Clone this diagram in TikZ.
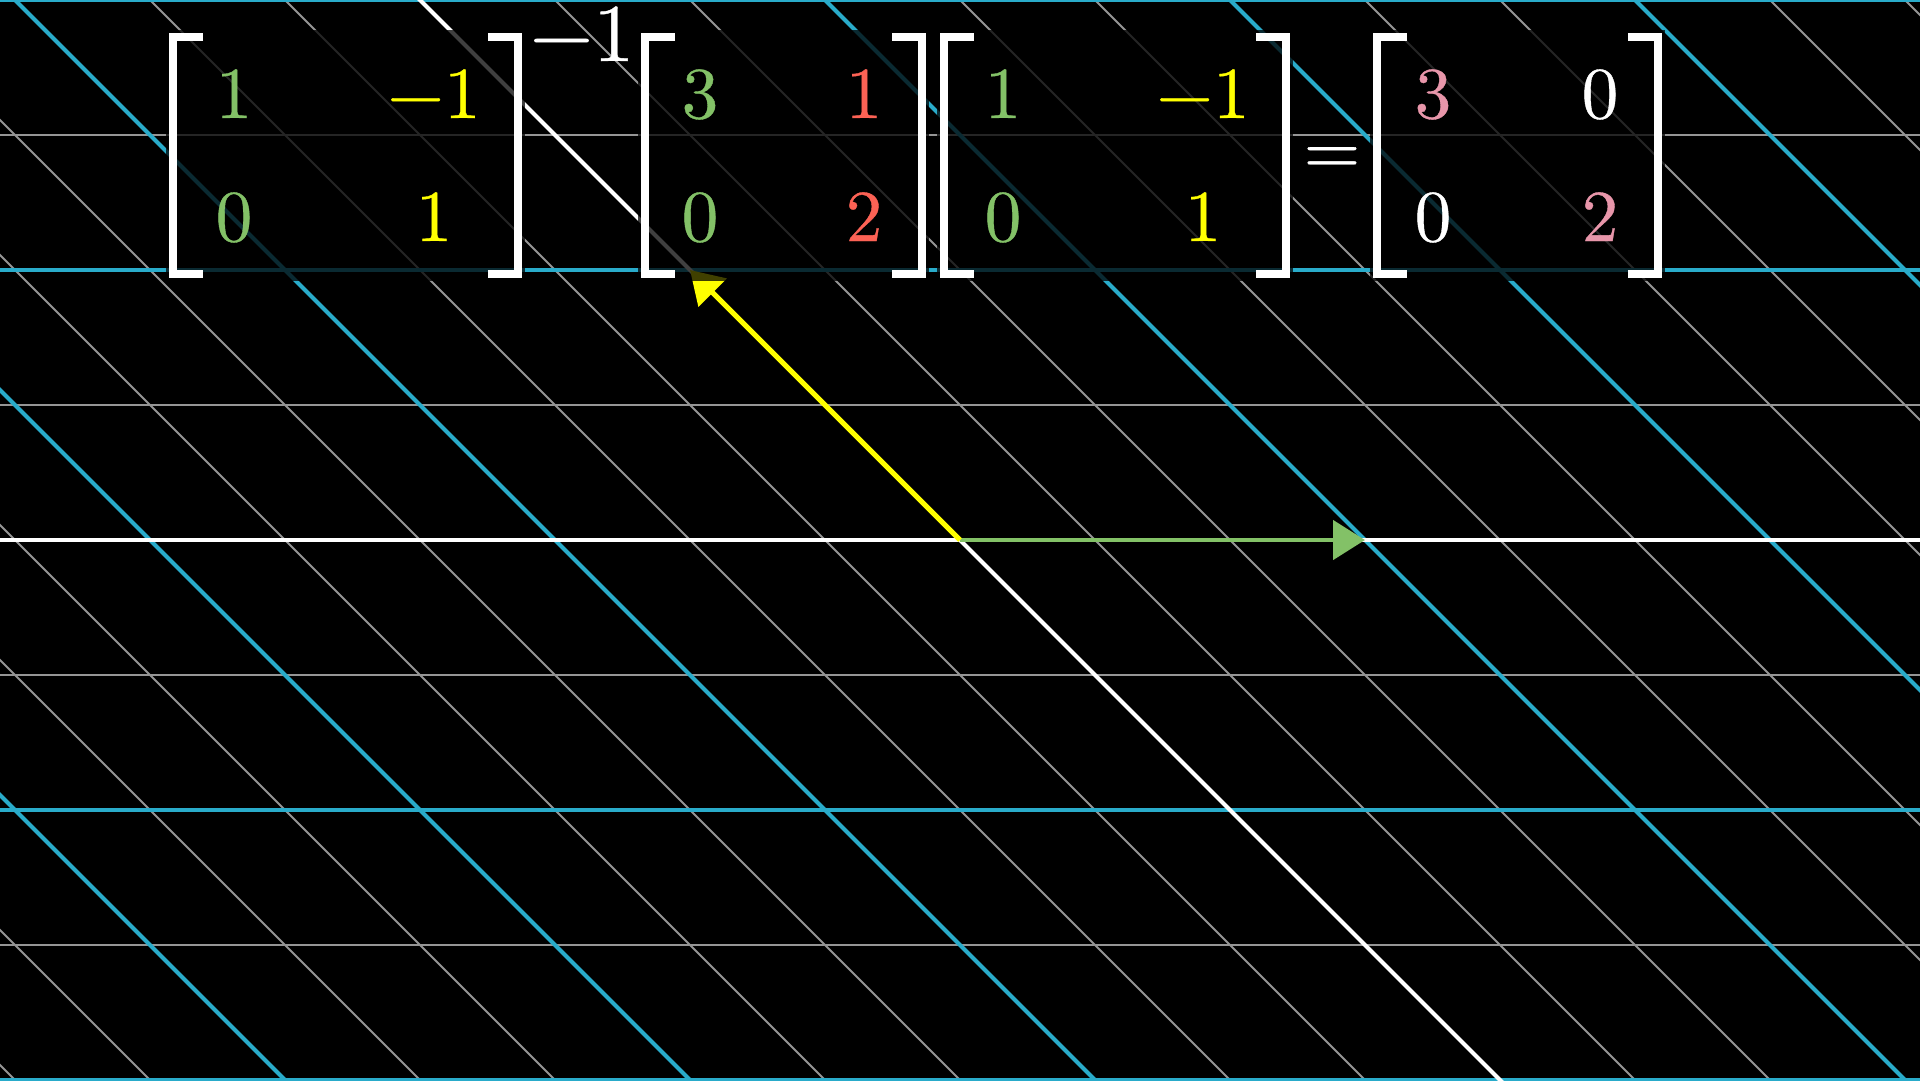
\documentclass[tikz,border=0pt]{standalone}
\usepackage{fontspec}
\usetikzlibrary{arrows.meta}
\newfontfamily\entryfont{lmroman10-regular.otf}[FakeBold=0.5]
\definecolor{gridblue}{HTML}{29ABCA}
\definecolor{fadegray}{HTML}{959595}
\definecolor{vgreen}{HTML}{83C167}
\definecolor{vyellow}{HTML}{FFFF00}
\definecolor{vred}{HTML}{FC6255}
\definecolor{vpink}{HTML}{E896AA}
\newcommand\mylbr[1]{\draw[bracketline] ({#1+34},37) -- ({#1+4},37) -- ({#1+4},274) -- ({#1+34},274);}
\newcommand\myrbr[1]{\draw[bracketline] ({#1-34},37) -- ({#1-4},37) -- ({#1-4},274) -- ({#1-34},274);}
\begin{document}
\begin{tikzpicture}[x=0.1mm,y=-0.1mm,
  faintline/.style={draw=fadegray, line width=0.2mm},
  blueline/.style={draw=gridblue, line width=0.4mm},
  axisline/.style={draw=white, line width=0.4mm},
  vecgreen/.style={draw=vgreen, line width=0.48mm, -{Triangle[length=3.2mm,width=3.9mm]}},
  vecyellow/.style={draw=vyellow, line width=0.5mm, -{Triangle[length=3.2mm,width=3.9mm]}},
  dimrect/.style={fill=black, fill opacity=0.75, draw=none},
  bracketline/.style={draw=white, line width=0.75mm, line join=miter, line cap=butt},
  entry/.style={inner sep=0pt, anchor=base, font=\entryfont\fontsize{20.8}{25}\selectfont},
  supentry/.style={inner sep=0pt, anchor=base, font=\entryfont\fontsize{23.3}{28}\selectfont, text=white}]
\useasboundingbox (0,0) rectangle (1920,1080);
\fill[black] (0,0) rectangle (1920,1080);
\begin{scope}
\clip (0,0) rectangle (1920,1080);
% faint lines
\foreach \k in {-3,-1,1,3} {\draw[faintline] (-10,{540+135*\k}) -- (1930,{540+135*\k});}
\foreach \m in {-11,-10,-8,-7,-5,-4,-2,-1,1,2,4,5,7,8,10,11}
  {\draw[faintline] ({960+135*\m-600},-60) -- ({960+135*\m+600},1140);}
% blue lines
\foreach \k in {-4,-2,2,4} {\draw[blueline] (-10,{540+135*\k}) -- (1930,{540+135*\k});}
\foreach \m in {-9,-6,-3,3,6,9}
  {\draw[blueline] ({960+135*\m-600},-60) -- ({960+135*\m+600},1140);}
% axes
\draw[axisline] (-10,540) -- (1930,540);
\draw[axisline] (360,-60) -- (1560,1140);
\end{scope}
% vectors
\coordinate (O) at (960,540);
\coordinate (G) at (1365,540);
\coordinate (Y) at (690,270);
\draw[vecgreen] (O) -- (G);
\draw[vecyellow] (O) -- (Y);
% matrix backgrounds
\fill[dimrect] (166,30) rectangle (525,281);
\fill[dimrect] (638,30) rectangle (929,281);
\fill[dimrect] (937,30) rectangle (1293,281);
\fill[dimrect] (1370,30) rectangle (1665,281);
% brackets
\mylbr{169} \myrbr{522}
\mylbr{641} \myrbr{926}
\mylbr{940} \myrbr{1290}
\mylbr{1373} \myrbr{1662}
% matrix 1
\node[entry, text=vgreen] (a11) at (234,118) {1};
\node[entry, text=vyellow] (a12) at (434,118) {−1};
\node[entry, text=vgreen] (a21) at (234,241) {0};
\node[entry, text=vyellow] (a22) at (434,241) {1};
\node[supentry] (inv) at (582,61) {−1};
% matrix 2
\node[entry, text=vgreen] (b11) at (700,118) {3};
\node[entry, text=vred] (b12) at (864,118) {1};
\node[entry, text=vgreen] (b21) at (700,241) {0};
\node[entry, text=vred] (b22) at (864,241) {2};
% matrix 3
\node[entry, text=vgreen] (c11) at (1003,118) {1};
\node[entry, text=vyellow] (c12) at (1203,118) {−1};
\node[entry, text=vgreen] (c21) at (1003,241) {0};
\node[entry, text=vyellow] (c22) at (1203,241) {1};
% equals
\node[entry, text=white] (eq) at (1332,174) {=};
% matrix 4
\node[entry, text=vpink] (d11) at (1433,118) {3};
\node[entry, text=white] (d12) at (1600,118) {0};
\node[entry, text=white] (d21) at (1433,241) {0};
\node[entry, text=vpink] (d22) at (1600,241) {2};
\end{tikzpicture}
\end{document}
